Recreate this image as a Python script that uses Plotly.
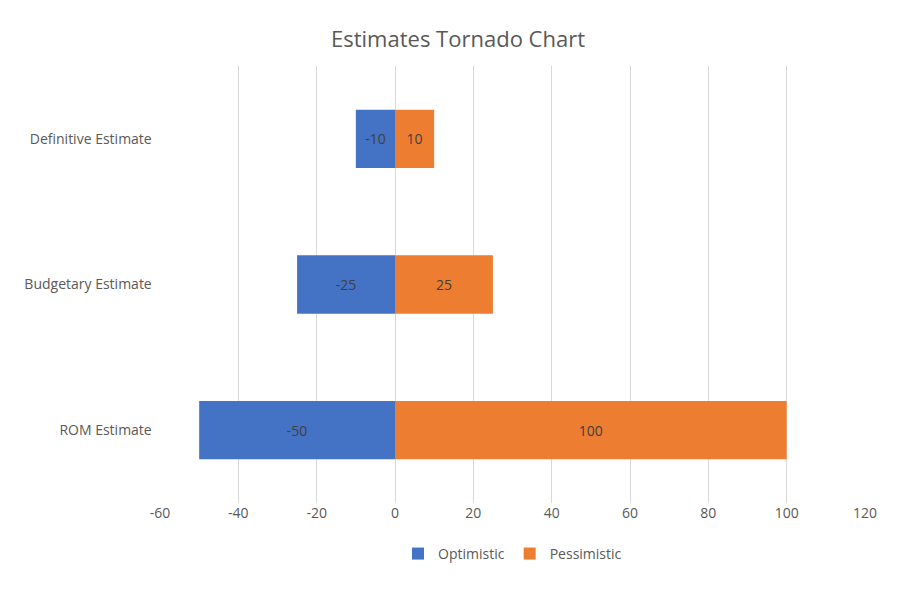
import plotly.graph_objects as go

categories = ["ROM Estimate", "Budgetary Estimate", "Definitive Estimate"]
optimistic = [-50, -25, -10]
pessimistic = [100, 25, 10]
tick_vals = [-60, -40, -20, 0, 20, 40, 60, 80, 100, 120]
tick_text = [str(v) for v in tick_vals]

BLUE = "#4472C4"
ORANGE = "#ED7D31"
GRAY = "#595959"

fig = go.Figure()
fig.add_trace(go.Bar(y=categories, x=optimistic, name="Optimistic", orientation="h",
                     marker=dict(color=BLUE, line=dict(width=0)),
                     text=optimistic, textposition="inside", insidetextanchor="middle",
                     textfont=dict(color="#404040", size=14)))
fig.add_trace(go.Bar(y=categories, x=pessimistic, name="Pessimistic", orientation="h",
                     marker=dict(color=ORANGE, line=dict(width=0)),
                     text=pessimistic, textposition="inside", insidetextanchor="middle",
                     textfont=dict(color="#404040", size=14)))

fig.update_layout(
    width=900, height=590,
    barmode="relative", bargap=0.6,
    paper_bgcolor="white", plot_bgcolor="white",
    font=dict(family="Open Sans, Liberation Sans, sans-serif", color=GRAY, size=14),
    title=dict(text="Estimates Tornado Chart", x=0.5, xanchor="center", y=0.96,
               font=dict(size=22, color=GRAY)),
    margin=dict(l=152, r=43, t=58, b=95),
    xaxis=dict(range=[-60, 120], tickvals=tick_vals, ticktext=tick_text,
               showgrid=True, gridcolor="#D9D9D9",
               zeroline=False, showline=False, ticks="", tickfont=dict(size=14, color=GRAY)),
    yaxis=dict(showgrid=False, zeroline=False, showline=False, ticks="",
               ticksuffix="  ", tickfont=dict(size=14, color=GRAY)),
    legend=dict(orientation="h", x=0.5, xanchor="center", y=-0.08, yanchor="top",
                font=dict(size=14, color=GRAY)),
    uniformtext=dict(mode="show", minsize=10),
)

fig.write_html("out.html")
